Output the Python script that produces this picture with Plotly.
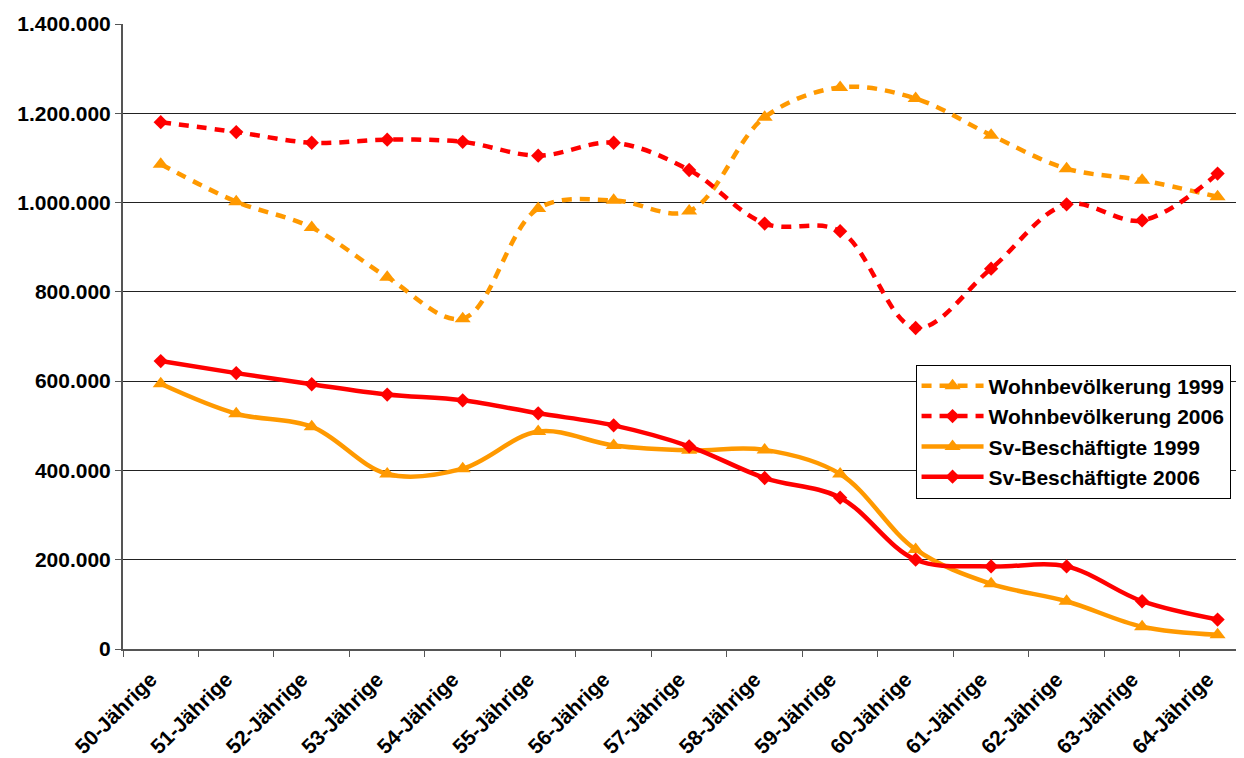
import plotly.graph_objects as go

# age groups on the x axis
alter = ["50-Jährige", "51-Jährige", "52-Jährige", "53-Jährige", "54-Jährige",
         "55-Jährige", "56-Jährige", "57-Jährige", "58-Jährige", "59-Jährige",
         "60-Jährige", "61-Jährige", "62-Jährige", "63-Jährige", "64-Jährige"]

wohn_1999 = [1086000, 1002000, 944000, 833000, 740000, 987000, 1005000, 981000,
             1191000, 1258000, 1233000, 1151000, 1076000, 1050000, 1013000]
wohn_2006 = [1180000, 1158000, 1134000, 1141000, 1136000, 1105000, 1134000, 1073000,
             953000, 936000, 719000, 852000, 996000, 960000, 1065000]
sv_1999 = [594000, 527000, 498000, 392000, 404000, 487000, 456000, 445000,
           446000, 392000, 223000, 146000, 107000, 50000, 32000]
sv_2006 = [645000, 618000, 593000, 570000, 557000, 528000, 501000, 454000,
           383000, 339000, 200000, 185000, 185000, 107000, 66000]

y_ticks = [0, 200000, 400000, 600000, 800000, 1000000, 1200000, 1400000]
y_labels = ["0", "200.000", "400.000", "600.000", "800.000",
            "1.000.000", "1.200.000", "1.400.000"]

ORANGE = "#FF9900"
RED = "#FF0000"

fig = go.Figure()

def add(name, values, color, symbol, dash, msize):
    fig.add_trace(go.Scatter(
        x=alter, y=values, name=name, mode="lines+markers",
        line=dict(color=color, width=4.5, dash=dash, shape="spline", smoothing=1),
        marker=dict(symbol=symbol, size=msize, color=color),
    ))

add("Wohnbevölkerung 1999", wohn_1999, ORANGE, "triangle-up", "10px,8px", 14)
add("Wohnbevölkerung 2006", wohn_2006, RED, "diamond", "10px,8px", 11)
add("Sv-Beschäftigte 1999", sv_1999, ORANGE, "triangle-up", "solid", 14)
add("Sv-Beschäftigte 2006", sv_2006, RED, "diamond", "solid", 11)

font = "Liberation Sans, Arial, sans-serif"

# page body adds 8px offset, margins compensate for it
fig.update_layout(
    width=1244, height=758, autosize=False,
    margin=dict(l=115, r=8, t=16, b=117),
    paper_bgcolor="white", plot_bgcolor="white",
    font=dict(family=font, size=21, color="black"),
    showlegend=True,
    legend=dict(
        x=0.707, y=0.455, xanchor="left", yanchor="top",
        bgcolor="white", bordercolor="black", borderwidth=1,
        font=dict(family=font, size=21, color="black", weight="bold"),
        itemwidth=62, tracegroupgap=0,
    ),
    xaxis=dict(
        type="category", range=[-0.5, 14.35], automargin=False,
        tickson="boundaries", ticks="outside", ticklen=6, tickcolor="#555",
        showgrid=False, showline=True, linecolor="#555", linewidth=1.5,
        tickangle=-45, ticklabelstandoff=8, ticklabelshift=-10,
        tickfont=dict(family=font, size=21, color="black", weight="bold"),
    ),
    yaxis=dict(
        range=[0, 1400000], tickvals=y_ticks, ticktext=y_labels, automargin=False,
        ticks="outside", ticklen=6, tickcolor="#555",
        showgrid=True, gridcolor="#222", gridwidth=1,
        showline=True, linecolor="#555", linewidth=2,
        zeroline=False,
        tickfont=dict(family=font, size=21, color="black", weight="bold"),
    ),
)

fig.write_html("out.html")
